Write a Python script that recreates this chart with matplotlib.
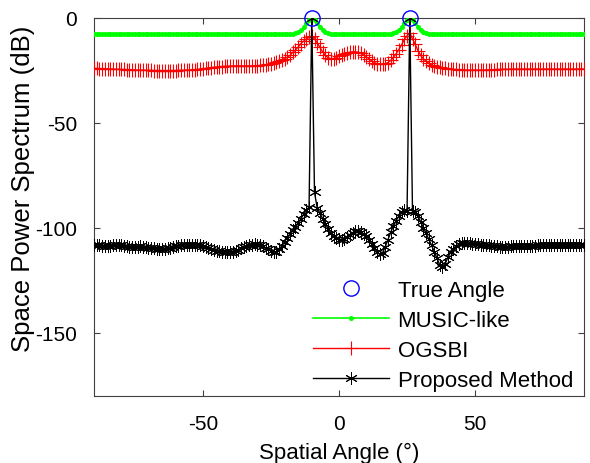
import matplotlib
matplotlib.use("Agg")
import matplotlib.pyplot as plt

plt.rcParams['font.family'] = ['Liberation Sans', 'DejaVu Sans']
plt.rcParams['axes.unicode_minus'] = False

# Scan grid (degrees)
angles = list(range(-90, 91))

# True source directions (degrees) and their reference level (dB)
true_angles = [-10, 26]
true_levels = [0.0, 0.0]

# MUSIC-like pseudo spectrum (dB)
music_like = [
    -7.6, -7.6, -7.6, -7.6, -7.6, -7.6, -7.6, -7.6, -7.6, -7.6,
    -7.6, -7.6, -7.6, -7.6, -7.6, -7.6, -7.6, -7.6, -7.6, -7.6,
    -7.6, -7.6, -7.6, -7.6, -7.6, -7.6, -7.6, -7.6, -7.6, -7.6,
    -7.6, -7.6, -7.6, -7.6, -7.6, -7.6, -7.6, -7.6, -7.6, -7.6,
    -7.6, -7.6, -7.6, -7.6, -7.6, -7.6, -7.6, -7.6, -7.6, -7.6,
    -7.6, -7.6, -7.6, -7.6, -7.6, -7.6, -7.6, -7.6, -7.6, -7.6,
    -7.6, -7.6, -7.6, -7.6, -7.6, -7.6, -7.6, -7.6, -7.6, -7.6,
    -7.6, -7.6, -7.6, -7.5, -7.3, -6.9, -5.9, -4.3, -2.5, -0.8,
    0.0, -0.8, -2.5, -4.3, -5.9, -6.9, -7.3, -7.5, -7.6, -7.6,
    -7.6, -7.6, -7.6, -7.6, -7.6, -7.6, -7.6, -7.6, -7.6, -7.6,
    -7.6, -7.6, -7.6, -7.6, -7.6, -7.6, -7.6, -7.6, -7.6, -7.5,
    -7.3, -6.9, -5.9, -4.3, -2.5, -0.8, 0.0, -0.8, -2.5, -4.3,
    -5.9, -6.9, -7.3, -7.5, -7.6, -7.6, -7.6, -7.6, -7.6, -7.6,
    -7.6, -7.6, -7.6, -7.6, -7.6, -7.6, -7.6, -7.6, -7.6, -7.6,
    -7.6, -7.6, -7.6, -7.6, -7.6, -7.6, -7.6, -7.6, -7.6, -7.6,
    -7.6, -7.6, -7.6, -7.6, -7.6, -7.6, -7.6, -7.6, -7.6, -7.6,
    -7.6, -7.6, -7.6, -7.6, -7.6, -7.6, -7.6, -7.6, -7.6, -7.6,
    -7.6, -7.6, -7.6, -7.6, -7.6, -7.6, -7.6, -7.6, -7.6, -7.6,
    -7.6,
]

# OGSBI spectrum (dB)
ogsbi = [
    -24.0, -24.0, -24.1, -24.1, -24.2, -24.2, -24.3, -24.3, -24.4, -24.4,
    -24.5, -24.5, -24.6, -24.6, -24.7, -24.7, -24.8, -24.8, -24.8, -24.9,
    -24.9, -24.9, -25.0, -25.0, -25.0, -25.0, -25.0, -25.0, -25.0, -25.0,
    -25.0, -24.9, -24.9, -24.9, -24.8, -24.8, -24.7, -24.6, -24.5, -24.4,
    -24.2, -24.0, -23.8, -23.6, -23.5, -23.3, -23.2, -23.1, -23.0, -22.9,
    -22.9, -22.8, -22.8, -22.8, -22.8, -22.8, -22.8, -22.8, -22.8, -22.7,
    -22.7, -22.6, -22.5, -22.3, -22.1, -21.8, -21.4, -21.0, -20.5, -19.9,
    -19.3, -18.7, -17.8, -16.3, -15.2, -13.8, -12.2, -11.0, -10.0, -9.2,
    -8.8, -10.0, -11.8, -14.0, -16.2, -17.8, -18.9, -19.4, -19.3, -18.9,
    -18.3, -17.7, -17.1, -16.6, -16.3, -16.1, -16.1, -16.3, -16.8, -17.5,
    -18.4, -19.4, -20.4, -21.2, -21.8, -22.1, -22.1, -21.8, -21.2, -20.2,
    -18.8, -17.0, -15.0, -12.8, -10.2, -8.5, -7.0, -10.0, -12.5, -15.5,
    -17.8, -19.4, -20.6, -21.6, -22.3, -22.8, -23.2, -23.5, -23.8, -24.0,
    -24.2, -24.3, -24.4, -24.5, -24.6, -24.7, -24.7, -24.8, -24.8, -24.8,
    -24.8, -24.8, -24.8, -24.8, -24.7, -24.7, -24.6, -24.6, -24.5, -24.5,
    -24.4, -24.4, -24.4, -24.3, -24.3, -24.3, -24.3, -24.3, -24.3, -24.3,
    -24.3, -24.3, -24.3, -24.3, -24.3, -24.3, -24.3, -24.3, -24.3, -24.3,
    -24.3, -24.3, -24.3, -24.3, -24.3, -24.3, -24.3, -24.3, -24.3, -24.3,
    -24.3,
]

# Proposed method spectrum (dB)
proposed = [
    -108.2, -108.2, -108.3, -108.4, -108.5, -108.5, -108.4, -108.3, -108.2, -108.2,
    -108.3, -108.5, -108.7, -108.9, -109.0, -109.0, -108.9, -108.8, -108.9, -109.1,
    -109.3, -109.5, -109.7, -109.8, -109.9, -109.9, -109.8, -109.6, -109.4, -109.1,
    -108.8, -108.5, -108.3, -108.1, -108.0, -107.9, -107.9, -108.0, -108.1, -108.3,
    -108.6, -109.0, -109.4, -109.9, -110.4, -110.8, -111.1, -111.3, -111.5, -111.6,
    -111.6, -111.3, -110.9, -110.3, -109.6, -109.0, -108.5, -108.1, -107.9, -107.8,
    -107.9, -108.2, -108.7, -109.4, -110.2, -110.9, -111.3, -111.2, -110.2, -108.5,
    -106.5, -104.6, -102.8, -101.0, -99.3, -97.5, -95.6, -93.5, -91.6, -90.0,
    0.0, -83.0, -90.5, -93.0, -95.5, -98.0, -100.3, -102.3, -103.8, -104.9,
    -105.5, -105.6, -105.1, -104.2, -103.1, -102.2, -101.6, -101.5, -101.9, -102.7,
    -103.9, -105.5, -107.4, -109.5, -111.5, -112.6, -111.8, -109.0, -105.5, -102.0,
    -99.0, -96.5, -94.3, -92.5, -91.3, -91.8, 0.0, -92.0, -92.5, -94.5,
    -97.0, -99.8, -102.5, -105.3, -108.2, -111.2, -114.5, -117.5, -118.8, -117.0,
    -114.0, -111.5, -109.8, -108.6, -107.8, -107.3, -107.1, -107.1, -107.2, -107.4,
    -107.6, -107.8, -107.9, -108.0, -108.1, -108.2, -108.4, -108.6, -108.8, -108.9,
    -109.0, -109.0, -108.9, -108.7, -108.5, -108.4, -108.4, -108.5, -108.6, -108.7,
    -108.7, -108.6, -108.4, -108.2, -108.1, -108.0, -108.0, -108.1, -108.2, -108.2,
    -108.1, -108.0, -107.9, -107.9, -108.0, -108.1, -108.1, -108.0, -107.9, -107.9,
    -108.0,
]

x_ticks = [-50, 0, 50]
y_ticks = [-150, -100, -50, 0]

fig = plt.figure(figsize=(5.9, 4.64), dpi=100)
ax = fig.add_axes([94 / 590, 1 - 397 / 464, 490 / 590, 378 / 464])

# asterisk marker: three crossing strokes (one vertical)
asterisk = (6, 2, 0)

ax.plot(true_angles, true_levels, linestyle='none', marker='o', markersize=11,
        markerfacecolor='none', markeredgecolor='#0000ff', markeredgewidth=1.0,
        clip_on=False, zorder=6, label='True Angle')
ax.plot(angles, music_like, color='#00ff00', linewidth=1.2, marker='o',
        markersize=3.6, markeredgewidth=0, markerfacecolor='#00ff00',
        zorder=3, label='MUSIC-like')
ax.plot(angles, ogsbi, color='#ff0000', linewidth=1.0, marker='+',
        markersize=10, markeredgewidth=0.8, zorder=4, label='OGSBI')
ax.plot(angles, proposed, color='black', linewidth=1.0, marker=asterisk,
        markersize=9, markeredgewidth=0.7, zorder=5, label='Proposed Method')

ax.set_xlim(-90, 90)
ax.set_ylim(-180, 0)
ax.set_xticks(x_ticks)
ax.set_yticks(y_ticks)

for sp in ax.spines.values():
    sp.set_linewidth(0.8)
    sp.set_color('#404040')
ax.tick_params(direction='in', top=True, right=True, length=4, width=0.8,
               color='#404040', labelsize=15)
ax.tick_params(axis='x', pad=13)
ax.tick_params(axis='y', pad=12)

ax.set_xlabel('Spatial Angle (°)', fontsize=16, labelpad=6)
ax.set_ylabel('Space Power Spectrum (dB)', fontsize=18.5)
ax.yaxis.set_label_coords(-0.12, 0.55)

leg = ax.legend(loc='lower right', fontsize=16, frameon=False,
                handlelength=3.4, handletextpad=0.4, labelspacing=0.4,
                borderaxespad=0, borderpad=0.3, numpoints=1,
                bbox_to_anchor=(1 - 4.4 / 490, -1.6 / 378))

fig.savefig('out.png', dpi=100)
